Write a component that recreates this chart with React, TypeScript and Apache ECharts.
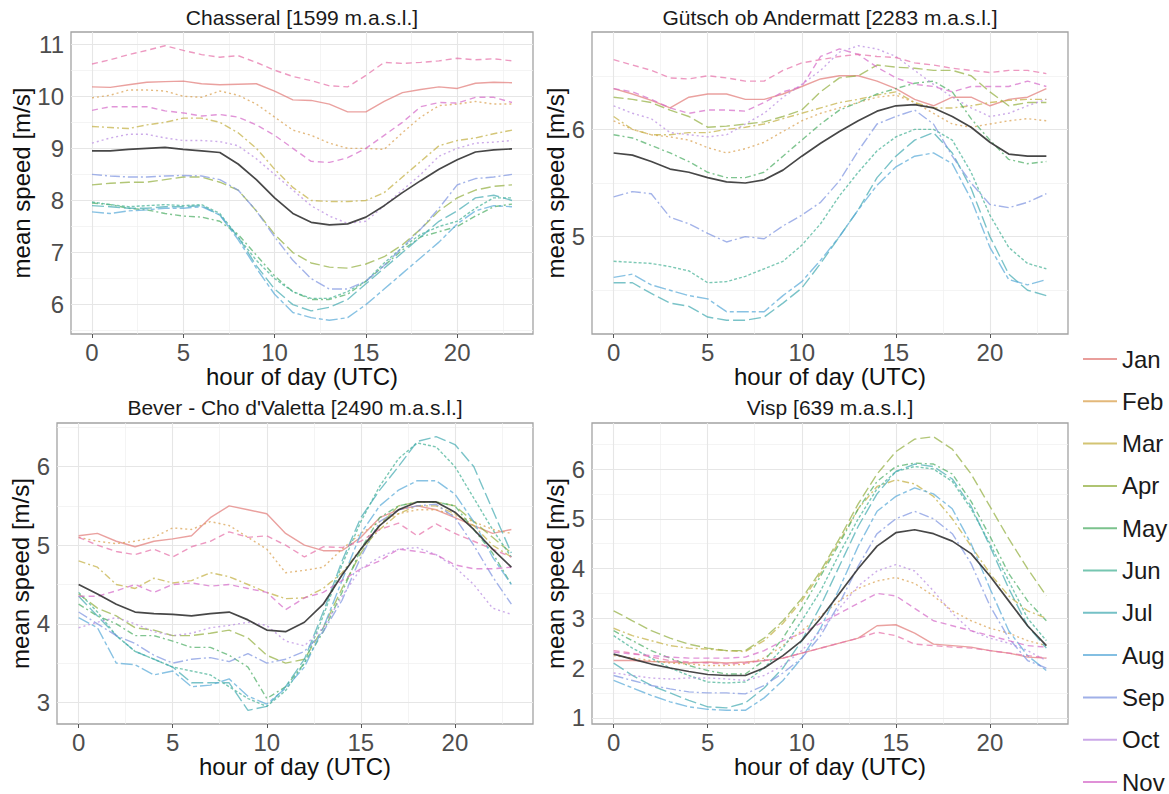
import React, { useEffect, useRef } from "react";
import * as echarts from "echarts";

// ---------- data ----------
const HOURS = [0, 1, 2, 3, 4, 5, 6, 7, 8, 9, 10, 11, 12, 13, 14, 15, 16, 17, 18, 19, 20, 21, 22, 23];
const MONTHS = ["Jan", "Feb", "Mar", "Apr", "May", "Jun", "Jul", "Aug", "Sep", "Oct", "Nov", "Dec"];
const X_TICKS = [0, 5, 10, 15, 20];
const X_MINOR = [2.5, 7.5, 12.5, 17.5, 22.5];

// Chasseral [1599 m.a.s.l.] rows: Jan..Dec
const CHASSERAL: number[][] = [
  [10.18, 10.17, 10.22, 10.27, 10.28, 10.29, 10.24, 10.22, 10.23, 10.24, 10.1, 9.93, 9.92, 9.85, 9.7, 9.7, 9.9, 10.07, 10.13, 10.18, 10.15, 10.25, 10.27, 10.26],
  [9.97, 10.02, 10.12, 10.12, 10.1, 10.0, 9.98, 10.1, 10.02, 9.85, 9.6, 9.35, 9.25, 9.1, 9.0, 9.0, 8.98, 9.3, 9.6, 9.82, 9.85, 9.9, 9.85, 9.85],
  [9.42, 9.4, 9.38, 9.45, 9.5, 9.58, 9.58, 9.5, 9.3, 9.0, 8.6, 8.25, 8.0, 7.98, 7.98, 8.0, 8.15, 8.45, 8.75, 9.05, 9.15, 9.2, 9.28, 9.35],
  [8.3, 8.33, 8.35, 8.35, 8.4, 8.45, 8.45, 8.35, 8.2, 7.8, 7.35, 7.0, 6.8, 6.72, 6.7, 6.78, 6.92, 7.15, 7.45, 7.8, 8.05, 8.2, 8.27, 8.3],
  [7.95, 7.92, 7.85, 7.82, 7.75, 7.7, 7.68, 7.6, 7.35, 6.95, 6.55, 6.25, 6.1, 6.1, 6.2, 6.45, 6.75, 7.05, 7.3, 7.4, 7.5, 7.7, 7.88, 7.93],
  [7.97, 7.92, 7.88, 7.9, 7.92, 7.9, 7.92, 7.75, 7.3, 6.85, 6.5, 6.25, 6.12, 6.12, 6.25, 6.45, 6.8, 7.1, 7.35, 7.5, 7.6, 7.85, 8.05, 8.05],
  [7.9, 7.88, 7.85, 7.85, 7.88, 7.88, 7.9, 7.72, 7.3, 6.75, 6.3, 6.0, 5.88, 5.95, 6.1, 6.4, 6.7, 7.0, 7.3, 7.6, 7.8, 8.05, 8.1, 8.0],
  [7.78, 7.75, 7.8, 7.82, 7.85, 7.85, 7.88, 7.72, 7.25, 6.7, 6.2, 5.85, 5.75, 5.7, 5.75, 6.0, 6.3, 6.6, 6.9, 7.2, 7.55, 7.8, 7.9, 7.88],
  [8.5, 8.47, 8.45, 8.45, 8.47, 8.48, 8.47, 8.4, 8.2, 7.8, 7.3, 6.85, 6.5, 6.3, 6.3, 6.45, 6.75, 7.1, 7.45, 7.85, 8.3, 8.42, 8.45, 8.5],
  [9.1, 9.2, 9.27, 9.27, 9.2, 9.15, 9.15, 9.13, 9.05, 8.8, 8.5, 8.2, 7.9, 7.7, 7.56, 7.6, 7.9, 8.2, 8.5, 8.85, 9.0, 9.1, 9.12, 9.15],
  [9.73, 9.8, 9.8, 9.8, 9.72, 9.68, 9.62, 9.65, 9.6, 9.45, 9.25, 9.0, 8.75, 8.73, 8.82, 9.0, 9.25, 9.5, 9.8, 9.88, 9.87, 9.98, 9.98, 9.88],
  [10.62, 10.7, 10.8, 10.88, 10.97, 10.88, 10.8, 10.75, 10.78, 10.65, 10.5, 10.38, 10.3, 10.2, 10.18, 10.4, 10.65, 10.63, 10.65, 10.68, 10.73, 10.7, 10.72, 10.68],
];
const CHASSERAL_MEAN = [8.95, 8.95, 8.98, 9.0, 9.02, 8.98, 8.95, 8.92, 8.7, 8.4, 8.05, 7.75, 7.58, 7.53, 7.55, 7.68, 7.9, 8.15, 8.38, 8.6, 8.78, 8.93, 8.97, 8.99];

// Gütsch ob Andermatt [2283 m.a.s.l.] rows: Jan..Dec
const GUETSCH: number[][] = [
  [6.38, 6.33, 6.27, 6.2, 6.3, 6.33, 6.33, 6.28, 6.28, 6.33, 6.4, 6.47, 6.5, 6.5, 6.45, 6.38, 6.28, 6.22, 6.3, 6.3, 6.22, 6.28, 6.3, 6.38],
  [6.08, 6.0, 5.95, 5.93, 5.9, 5.83, 5.78, 5.82, 5.88, 5.98, 6.08, 6.15, 6.2, 6.25, 6.3, 6.32, 6.25, 6.15, 6.05, 6.02, 6.05, 6.08, 6.1, 6.08],
  [6.12, 6.0, 5.95, 5.95, 5.97, 5.97, 6.0, 6.02, 6.05, 6.1, 6.15, 6.2, 6.25, 6.28, 6.32, 6.35, 6.25, 6.2, 6.2, 6.22, 6.25, 6.27, 6.28, 6.28],
  [6.3, 6.28, 6.25, 6.18, 6.12, 6.02, 6.03, 6.05, 6.07, 6.12, 6.18, 6.35, 6.48, 6.5, 6.6, 6.58, 6.57, 6.55, 6.55, 6.5, 6.35, 6.22, 6.25, 6.25],
  [5.95, 5.92, 5.85, 5.78, 5.7, 5.6, 5.55, 5.55, 5.6, 5.75, 5.9, 6.05, 6.18, 6.25, 6.33, 6.38, 6.43, 6.45, 6.35, 6.1, 5.9, 5.72, 5.68, 5.7],
  [4.77, 4.76, 4.75, 4.72, 4.68, 4.57, 4.58, 4.63, 4.7, 4.77, 4.92, 5.12, 5.38, 5.6, 5.8, 5.93, 6.0, 6.0, 5.9, 5.6, 5.2, 4.9, 4.75, 4.7],
  [4.57, 4.57, 4.47, 4.38, 4.35, 4.25, 4.22, 4.22, 4.25, 4.38, 4.52, 4.75, 5.0, 5.25, 5.55, 5.75, 5.9, 5.97, 5.78, 5.45, 5.0, 4.65, 4.5, 4.45],
  [4.62, 4.65, 4.55, 4.5, 4.45, 4.42, 4.3, 4.3, 4.3, 4.45, 4.58, 4.78, 5.0, 5.25, 5.48, 5.65, 5.75, 5.78, 5.68, 5.35, 4.9, 4.6, 4.55, 4.6],
  [5.37, 5.42, 5.4, 5.18, 5.12, 5.03, 4.95, 5.0, 4.98, 5.1, 5.2, 5.32, 5.52, 5.8, 6.05, 6.12, 6.18, 6.05, 5.75, 5.5, 5.3, 5.27, 5.32, 5.4],
  [6.22, 6.15, 6.1, 5.97, 5.95, 5.93, 5.95, 6.05, 6.15, 6.3, 6.42, 6.55, 6.72, 6.78, 6.75, 6.68, 6.55, 6.42, 6.3, 6.2, 6.12, 6.15, 6.22, 6.28],
  [6.38, 6.35, 6.28, 6.2, 6.15, 6.18, 6.18, 6.17, 6.25, 6.35, 6.4, 6.68, 6.75, 6.7, 6.58, 6.48, 6.42, 6.4, 6.35, 6.4, 6.4, 6.4, 6.45, 6.4],
  [6.65, 6.6, 6.55, 6.48, 6.47, 6.5, 6.48, 6.45, 6.45, 6.55, 6.62, 6.65, 6.68, 6.7, 6.68, 6.67, 6.62, 6.6, 6.57, 6.55, 6.53, 6.55, 6.55, 6.52],
];
const GUETSCH_MEAN = [5.78, 5.76, 5.7, 5.63, 5.6, 5.55, 5.51, 5.5, 5.53, 5.62, 5.75, 5.87, 5.98, 6.08, 6.17, 6.22, 6.23, 6.2, 6.12, 6.02, 5.88, 5.77, 5.75, 5.75];

// Bever - Cho d'Valetta [2490 m.a.s.l.] rows: Jan..Dec
const BEVER: number[][] = [
  [5.12, 5.15, 5.05, 4.98, 5.05, 5.08, 5.12, 5.35, 5.5, 5.45, 5.4, 5.15, 5.0, 4.93, 4.93, 5.1, 5.35, 5.45, 5.5, 5.45, 5.35, 5.25, 5.15, 5.2],
  [5.1, 5.05, 5.02, 5.05, 5.1, 5.22, 5.2, 5.3, 5.25, 5.1, 4.95, 4.65, 4.68, 4.72, 4.95, 5.15, 5.3, 5.4, 5.45, 5.45, 5.38, 5.3, 5.2, 5.15],
  [4.8, 4.72, 4.5, 4.45, 4.58, 4.52, 4.55, 4.65, 4.6, 4.5, 4.4, 4.32, 4.33, 4.45, 4.65, 4.95, 5.2, 5.4, 5.5, 5.5, 5.4, 5.25, 5.0, 4.85],
  [4.38, 4.2, 4.1, 3.95, 3.92, 3.85, 3.85, 3.88, 3.92, 3.82, 3.6, 3.5, 3.55, 3.95, 4.45, 4.9, 5.25, 5.5, 5.55, 5.55, 5.5, 5.3, 5.1, 4.9],
  [4.25, 4.1, 4.0, 3.85, 3.85, 3.78, 3.7, 3.7, 3.6, 3.45, 3.05, 3.2, 3.5, 3.9, 4.4, 4.95, 5.35, 5.5, 5.55, 5.55, 5.5, 5.2, 4.9, 4.5],
  [4.4, 4.15, 3.85, 3.65, 3.55, 3.45, 3.4, 3.35, 3.2, 3.05, 2.95, 3.15, 3.5, 4.1, 4.75, 5.3, 5.75, 6.1, 6.3, 6.25, 6.0, 5.6, 5.2, 4.85],
  [4.35, 4.1, 3.85, 3.65, 3.55, 3.45, 3.25, 3.25, 3.25, 2.9, 2.95, 3.2, 3.55, 4.15, 4.8, 5.35, 5.7, 6.0, 6.32, 6.38, 6.28, 6.0, 5.45, 4.9],
  [4.08, 3.95, 3.5, 3.48, 3.35, 3.4, 3.2, 3.22, 3.3, 3.08, 2.98, 3.18, 3.45, 3.95, 4.55, 5.15, 5.5, 5.7, 5.82, 5.82, 5.65, 5.3, 4.85, 4.5],
  [4.15, 4.0, 3.85, 3.75, 3.6, 3.5, 3.55, 3.57, 3.52, 3.62, 3.5, 3.55, 3.65, 3.9, 4.3, 4.85, 5.3, 5.45, 5.5, 5.52, 5.35, 5.0, 4.6, 4.25],
  [3.95, 4.02, 4.08, 4.0, 3.9, 3.85, 3.88, 3.95, 3.98, 4.02, 3.98, 3.78, 3.72, 3.95, 4.35, 4.7, 4.85, 4.95, 4.97, 4.88, 4.72, 4.5, 4.2, 4.12],
  [4.35, 4.35, 4.42, 4.5, 4.4, 4.5, 4.52, 4.48, 4.5, 4.45, 4.4, 4.18, 4.33, 4.4, 4.55, 4.7, 4.8, 4.95, 4.92, 4.88, 4.75, 4.7, 4.7, 4.72],
  [5.1, 5.0, 4.92, 4.88, 4.95, 4.85, 4.98, 5.05, 5.17, 5.1, 5.12, 5.0, 4.85, 4.98, 4.97, 5.05, 5.2, 5.28, 5.12, 5.27, 5.15, 5.05, 4.95, 4.85],
];
const BEVER_MEAN = [4.5, 4.38, 4.25, 4.15, 4.13, 4.12, 4.1, 4.13, 4.15, 4.05, 3.92, 3.9, 4.02, 4.25, 4.62, 4.95, 5.25, 5.45, 5.55, 5.55, 5.42, 5.2, 4.95, 4.72];

// Visp [639 m.a.s.l.] rows: Jan..Dec
const VISP: number[][] = [
  [2.15, 2.15, 2.13, 2.12, 2.1, 2.12, 2.1, 2.12, 2.15, 2.2, 2.3, 2.4, 2.5, 2.6, 2.85, 2.87, 2.7, 2.48, 2.45, 2.42, 2.35, 2.3, 2.22, 2.2],
  [2.25, 2.2, 2.15, 2.1, 2.08, 2.05, 2.05, 2.08, 2.2, 2.45, 2.75, 3.05, 3.35, 3.6, 3.75, 3.82, 3.7, 3.45, 3.15, 2.95, 2.8, 2.7, 2.55, 2.45],
  [2.8, 2.65, 2.55, 2.45, 2.4, 2.38, 2.35, 2.33, 2.55, 2.9, 3.35, 3.9, 4.55, 5.2, 5.65, 5.78, 5.7, 5.45, 5.0, 4.45, 3.9, 3.45, 3.15, 3.0],
  [3.15, 2.95, 2.75, 2.6, 2.48, 2.4, 2.35, 2.35, 2.6, 2.95, 3.4, 3.95, 4.6, 5.3, 5.9, 6.35, 6.6, 6.65, 6.4, 5.9, 5.25, 4.6, 4.0, 3.45],
  [2.75, 2.55, 2.35, 2.2, 2.05, 1.95, 1.88, 1.88, 2.15, 2.6, 3.2, 3.85, 4.5, 5.2, 5.75, 6.05, 6.12, 6.1, 5.9, 5.35, 4.65, 3.9, 3.35, 2.95],
  [2.65, 2.4, 2.2, 2.0, 1.85, 1.72, 1.7, 1.72, 2.0, 2.4, 2.95, 3.55, 4.3, 5.0, 5.6, 5.95, 6.05, 6.0, 5.75, 5.2, 4.5, 3.75, 3.0, 2.55],
  [2.1, 1.85, 1.65, 1.5, 1.35, 1.22, 1.2, 1.3, 1.6, 2.0, 2.55, 3.25, 4.05, 4.85, 5.5, 5.95, 6.1, 6.05, 5.8, 5.25, 4.45, 3.6, 2.85, 2.4],
  [1.75, 1.6, 1.45, 1.32, 1.22, 1.17, 1.15, 1.15, 1.4, 1.75, 2.2, 2.8, 3.6, 4.45, 5.15, 5.45, 5.62, 5.5, 5.2, 4.5, 3.6, 2.75, 2.25, 1.95],
  [1.85, 1.75, 1.65, 1.58, 1.52, 1.5, 1.5, 1.48, 1.65, 1.9, 2.2, 2.65, 3.3, 4.05, 4.7, 5.0, 5.15, 5.0, 4.7, 4.1, 3.25, 2.6, 2.15, 2.0],
  [1.9, 1.85, 1.8, 1.78, 1.8, 1.8, 1.78, 1.75, 1.85, 2.05, 2.35, 2.75, 3.2, 3.65, 3.95, 4.08, 3.95, 3.55, 3.1, 2.75, 2.6, 2.5, 2.35, 2.15],
  [2.32, 2.28, 2.25, 2.22, 2.2, 2.2, 2.2, 2.22, 2.35, 2.55, 2.7, 2.9, 3.1, 3.3, 3.5, 3.45, 3.2, 2.95, 2.85, 2.75, 2.65, 2.55, 2.45, 2.42],
  [2.35, 2.3, 2.22, 2.15, 2.12, 2.1, 2.08, 2.1, 2.15, 2.2, 2.3, 2.4, 2.5, 2.6, 2.72, 2.65, 2.48, 2.45, 2.42, 2.4, 2.35, 2.3, 2.25, 2.2],
];
const VISP_MEAN = [2.28, 2.18, 2.08, 2.0, 1.93, 1.87, 1.85, 1.85, 2.0, 2.25, 2.55, 3.0, 3.5, 4.0, 4.45, 4.72, 4.78, 4.7, 4.55, 4.3, 3.85, 3.35, 2.85, 2.45];

const Y_TICKS_CHASSERAL = [6, 7, 8, 9, 10, 11];
const Y_MINOR_CHASSERAL = [5.5, 6.5, 7.5, 8.5, 9.5, 10.5];
const Y_TICKS_GUETSCH = [5, 6];
const Y_MINOR_GUETSCH = [4.5, 5.5, 6.5];
const Y_TICKS_BEVER = [3, 4, 5, 6];
const Y_MINOR_BEVER = [3.5, 4.5, 5.5, 6.5];
const Y_TICKS_VISP = [1, 2, 3, 4, 5, 6];
const Y_MINOR_VISP = [1.5, 2.5, 3.5, 4.5, 5.5, 6.5];

// ---------- styling ----------
const MONTH_COLORS = [
  "#e27d7a", "#d9a04e", "#c4b044", "#94b043", "#4fae67", "#48b397",
  "#47acb3", "#5aaad8", "#8096e0", "#b98be0", "#d56cc9", "#e672a9",
];
const MONTH_DASH: any[] = [
  "solid", [2, 3], [7, 3, 2, 3], [10, 4], [6, 3, 2, 3], [3, 2],
  [12, 4], [12, 3, 4, 3], [10, 3, 2, 3], [2, 3], [6, 4], [6, 4],
];
const FONT = "'Liberation Sans', Arial, Helvetica, sans-serif";

const PANELS = [
  { title: "Chasseral [1599 m.a.s.l.]", rows: CHASSERAL, mean: CHASSERAL_MEAN, yTicks: Y_TICKS_CHASSERAL, yMinor: Y_MINOR_CHASSERAL,
    box: { left: 71, top: 32, width: 462, height: 302 }, yNameGap: 37, titleTop: 7 },
  { title: "Gütsch ob Andermatt [2283 m.a.s.l.]", rows: GUETSCH, mean: GUETSCH_MEAN, yTicks: Y_TICKS_GUETSCH, yMinor: Y_MINOR_GUETSCH,
    box: { left: 592, top: 32, width: 476, height: 302 }, yNameGap: 20, titleTop: 7 },
  { title: "Bever - Cho d'Valetta [2490 m.a.s.l.]", rows: BEVER, mean: BEVER_MEAN, yTicks: Y_TICKS_BEVER, yMinor: Y_MINOR_BEVER,
    box: { left: 57, top: 423, width: 476, height: 301 }, yNameGap: 23, titleTop: 397 },
  { title: "Visp [639 m.a.s.l.]", rows: VISP, mean: VISP_MEAN, yTicks: Y_TICKS_VISP, yMinor: Y_MINOR_VISP,
    box: { left: 592, top: 423, width: 476, height: 301 }, yNameGap: 20, titleTop: 397 },
];

// ggplot-like 5% expansion of the data range
function expand(vals: number[]): [number, number] {
  const lo = Math.min(...vals);
  const hi = Math.max(...vals);
  const pad = (hi - lo) * 0.05;
  return [lo - pad, hi + pad];
}

function buildOption() {
  const grid: any[] = [];
  const xAxis: any[] = [];
  const yAxis: any[] = [];
  const title: any[] = [];
  const series: any[] = [];
  const [xMin, xMax] = expand(HOURS);

  PANELS.forEach((p, pi) => {
    grid.push({ ...p.box, show: true, borderColor: "#a3a3a3", borderWidth: 1.3, backgroundColor: "transparent", containLabel: false });
    title.push({
      text: p.title, left: p.box.left + p.box.width / 2, top: p.titleTop, textAlign: "center", padding: 0,
      textStyle: { fontSize: 21, fontWeight: "normal", color: "#1a1a1a", fontFamily: FONT },
    });
    const all = p.rows.flat().concat(p.mean);
    const [yMin, yMax] = expand(all);
    xAxis.push({
      type: "value", gridIndex: pi, min: xMin, max: xMax,
      name: "hour of day (UTC)", nameLocation: "middle", nameGap: 25,
      nameTextStyle: { fontSize: 24, color: "#111", fontFamily: FONT },
      axisLine: { show: false },
      axisTick: { show: true, length: 4, customValues: X_TICKS, lineStyle: { color: "#555", width: 1 } },
      axisLabel: { customValues: X_TICKS, fontSize: 24, color: "#4d4d4d", margin: 6, fontFamily: FONT },
      splitLine: { show: false },
    });
    yAxis.push({
      type: "value", gridIndex: pi, min: yMin, max: yMax,
      name: "mean speed [m/s]", nameLocation: "middle", nameGap: p.yNameGap,
      nameTextStyle: { fontSize: 24, color: "#111", fontFamily: FONT },
      axisLine: { show: false },
      axisTick: { show: true, length: 4, customValues: p.yTicks, lineStyle: { color: "#555", width: 1 } },
      axisLabel: { customValues: p.yTicks, fontSize: 24, color: "#4d4d4d", margin: 7, fontFamily: FONT },
      splitLine: { show: false },
    });

    // grid lines (major + minor), placed through the axes' scales
    const major = { color: "#e6e6e6", width: 1.1, type: "solid" };
    const minor = { color: "#efefef", width: 0.7, type: "solid" };
    const lines: any[] = [];
    X_MINOR.forEach((v) => lines.push({ xAxis: v, lineStyle: minor }));
    p.yMinor.filter((v) => v > yMin && v < yMax).forEach((v) => lines.push({ yAxis: v, lineStyle: minor }));
    X_TICKS.forEach((v) => lines.push({ xAxis: v, lineStyle: major }));
    p.yTicks.forEach((v) => lines.push({ yAxis: v, lineStyle: major }));
    series.push({
      type: "line", name: "grid" + pi, xAxisIndex: pi, yAxisIndex: pi, data: [], silent: true,
      markLine: { silent: true, symbol: ["none", "none"], label: { show: false }, z: 1, animation: false, data: lines },
    });

    p.rows.forEach((row, m) => {
      series.push({
        type: "line", name: MONTHS[m], xAxisIndex: pi, yAxisIndex: pi,
        data: HOURS.map((h, i) => [h, row[i]]),
        showSymbol: false, symbol: "none", silent: true, z: 3,
        itemStyle: { color: MONTH_COLORS[m], opacity: 0.75 },
        lineStyle: { color: MONTH_COLORS[m], width: 1.4, type: MONTH_DASH[m], opacity: 0.72 },
      });
    });
    series.push({
      type: "line", name: "mean", xAxisIndex: pi, yAxisIndex: pi,
      data: HOURS.map((h, i) => [h, p.mean[i]]),
      showSymbol: false, symbol: "none", silent: true, z: 4,
      itemStyle: { color: "#333333" },
      lineStyle: { color: "#333333", width: 1.7, type: "solid", opacity: 0.9 },
    });
  });

  return {
    animation: false,
    textStyle: { fontFamily: FONT },
    title, grid, xAxis, yAxis, series,
    legend: {
      data: MONTHS, orient: "vertical", left: 1083, top: 347, padding: 0,
      itemWidth: 34, itemHeight: 2, icon: "rect", itemGap: 18.3, selectedMode: false,
      itemStyle: { opacity: 0.75 },
      textStyle: { fontSize: 24, lineHeight: 24, color: "#1a1a1a", fontFamily: FONT },
    },
  };
}

export default function App() {
  const ref = useRef<HTMLDivElement>(null);
  useEffect(() => {
    if (!ref.current) return;
    const chart = echarts.init(ref.current, undefined, { renderer: "svg" });
    chart.setOption(buildOption() as any);
    return () => chart.dispose();
  }, []);
  return (
    <div
      ref={ref}
      style={{ position: "fixed", left: 0, top: 0, width: 1169, height: 1000, background: "#ffffff" }}
    />
  );
}
